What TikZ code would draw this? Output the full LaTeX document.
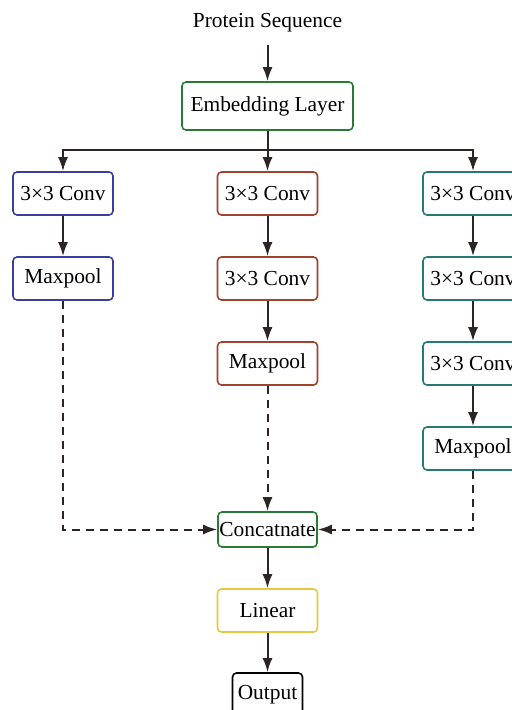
\documentclass[tikz,border=0pt]{standalone}
\usepackage{fontspec}
\setmainfont{Liberation Serif}
\usetikzlibrary{positioning,calc,arrows.meta}
\definecolor{ConvBlue}{RGB}{58,62,160}
\definecolor{ConvRed}{RGB}{160,66,45}
\definecolor{ConvTeal}{RGB}{38,122,115}
\definecolor{MixGreen}{RGB}{40,122,55}
\definecolor{LinYellow}{RGB}{232,200,64}
\definecolor{ArrDark}{RGB}{45,36,36}
\tikzset{
  blk/.style={draw,rounded corners=2pt,fill=white,line width=0.8pt,inner sep=0pt,
    minimum width=50pt,minimum height=21.5pt,font=\fontsize{10.7}{12}\selectfont},
  bluebox/.style={blk,draw=ConvBlue},
  redbox/.style={blk,draw=ConvRed},
  tealbox/.style={blk,draw=ConvTeal},
  greenbox/.style={blk,draw=MixGreen},
  yellowbox/.style={blk,draw=LinYellow},
  arr/.style={draw=ArrDark,line width=1pt,-{Latex[length=7pt,width=5pt]}},
  dasharr/.style={arr,dash pattern=on 4pt off 3pt},
}

\begin{document}
\begin{tikzpicture}[x=0.5pt,y=-0.5pt]
        \clip (0,0) rectangle (512,710);
        \node[font=\fontsize{10.7}{12}\selectfont] (seq) at (267.5,23) {Protein Sequence};
        \node[greenbox,minimum width=85.5pt,minimum height=24pt] (emb) at (267.5,106) {Embedding Layer};
        \coordinate (split) at (267.5,150);
        % three branches
        \node[bluebox] (l1) at (63,193.5) {3×3 Conv};
        \node[bluebox] (l2) at (63,278.5) {Maxpool};
        \node[redbox] (m1) at (267.5,193.5) {3×3 Conv};
        \node[redbox] (m2) at (267.5,278.5) {3×3 Conv};
        \node[redbox] (m3) at (267.5,363.5) {Maxpool};
        \node[tealbox] (r1) at (473,193.5) {3×3 Conv};
        \node[tealbox] (r2) at (473,278.5) {3×3 Conv};
        \node[tealbox] (r3) at (473,363.5) {3×3 Conv};
        \node[tealbox] (r4) at (473,448.5) {Maxpool};
        % merge
        \node[greenbox,minimum width=49.5pt,minimum height=17.5pt] (cat) at (267.5,529.5) {Concatnate};
        \node[yellowbox] (lin) at (267.5,610.5) {Linear};
        \node[blk,draw=black,minimum width=35pt] (out) at (267.5,694.5) {Output};
        \draw[arr] (seq.south) ++(0,6) -- (emb.north);
        \draw[draw=ArrDark,line width=1pt] (emb.south) -- (split);
        \draw[arr] (split) -| (l1);
        \draw[arr] (split) -| (r1);
        \draw[arr] (split) -- (m1);
        \foreach \x/\y in {l1/l2,m1/m2,m2/m3,r1/r2,r2/r3,r3/r4,cat/lin,lin/out}
          \draw[arr] (\x) -- (\y);
        \draw[dasharr] (l2.south) |- (cat.west);
        \draw[dasharr] (r4.south) |- (cat.east);
        \draw[dasharr] (m3) -- (cat);
      \end{tikzpicture}
\end{document}
